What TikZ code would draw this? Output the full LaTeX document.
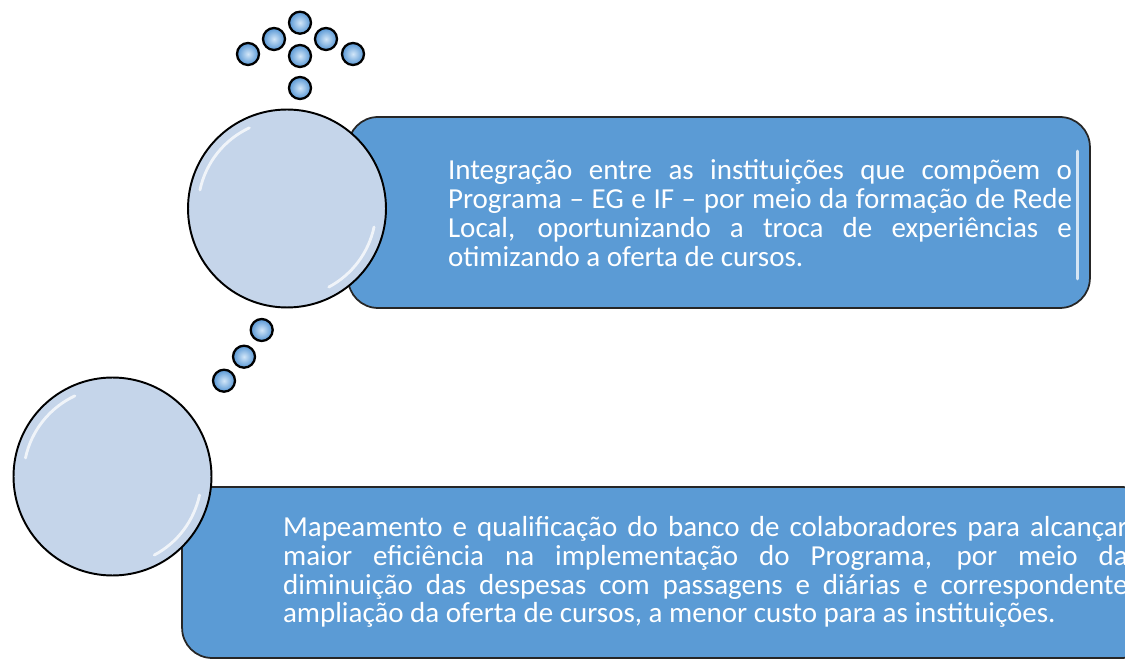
\documentclass[tikz,border=0pt]{standalone}
\usepackage{fontspec}
\setmainfont{Carlito}
\usetikzlibrary{positioning}
\hyphenpenalty=10000

\definecolor{boxblue}{RGB}{91,155,213}
\definecolor{bubblefill}{RGB}{197,213,234}
\definecolor{dotinner}{RGB}{210,230,248}
\definecolor{dotouter}{RGB}{86,150,212}

\tikzset{
  bigbubble/.style={circle, draw=black, line width=1.1pt, fill=bubblefill,
    minimum size=3.96cm, inner sep=0pt},
  smalldot/.style={circle, draw=black, line width=1.3pt, inner color=dotinner,
    outer color=dotouter, minimum size=0.44cm, inner sep=0pt},
  infobox/.style={rectangle, rounded corners=0.6cm, draw=black!85,
    line width=1pt, fill=boxblue},
  infotext/.style={text=white, inner sep=0pt,
    font=\fontsize{16.5}{16.45}\selectfont},
  glint/.style={white, line width=1.6pt, opacity=.75, line cap=round}
}

\begin{document}
\begin{tikzpicture}[x=0.02cm, y=-0.02cm]
    % Frame of the page
    \useasboundingbox (0,0) rectangle (1125,661);
    \clip (0,0) rectangle (1125,661);

    % Draw the two text boxes
    \node[infobox, minimum width=14.84cm, minimum height=3.82cm] (box1) at (719,212.5) {};
    \node[infobox, minimum width=19.4cm, minimum height=3.42cm] (box2) at (667,572.5) {};
    \draw[glint] ([shift={(-0.26cm,-0.7cm)}]box1.north east) -- ([shift={(-0.26cm,0.6cm)}]box1.south east);

    \node[infotext] (text1) at (760,213)
      {\parbox{12.48cm}{Integração entre as instituições que compõem o\linebreak Programa -- EG e IF -- por meio da formação de Rede\linebreak Local, oportunizando a troca de experiências e\linebreak otimizando a oferta de cursos.}};
    \node[infotext] (text2) at (705.5,572)
      {\parbox{16.9cm}{Mapeamento e qualificação do banco de colaboradores para alcançar\linebreak maior eficiência na implementação do Programa, por meio da\linebreak diminuição das despesas com passagens e diárias e correspondente\linebreak ampliação da oferta de cursos, a menor custo para as instituições.}};

    % Draw the big bubbles
    \node[bigbubble] (bubble1) at (287,208.5) {};
    \node[bigbubble] (bubble2) at (112.5,476.5) {};
    \foreach \b in {bubble1,bubble2} {
      \draw[glint] ([shift={(115:1.78cm)}]\b.center) arc[start angle=115, end angle=168, radius=1.78cm];
      \draw[glint] ([shift={(-62:1.78cm)}]\b.center) arc[start angle=-62, end angle=-12, radius=1.78cm];
    }

    % Small dots above the first bubble
    \foreach \name/\px/\py in {d1/300/22.7, d2/274/39, d3/326/39, d4/248/54,
                               d5/353/54, d6/300/56, d7/300/88} {
      \node[smalldot] (\name) at (\px,\py) {};
    }

    % Small dots between the bubbles
    \foreach \name/\px/\py in {e1/261.7/330, e2/244/356.7, e3/224/380.7} {
      \node[smalldot] (\name) at (\px,\py) {};
    }
\end{tikzpicture}
\end{document}
